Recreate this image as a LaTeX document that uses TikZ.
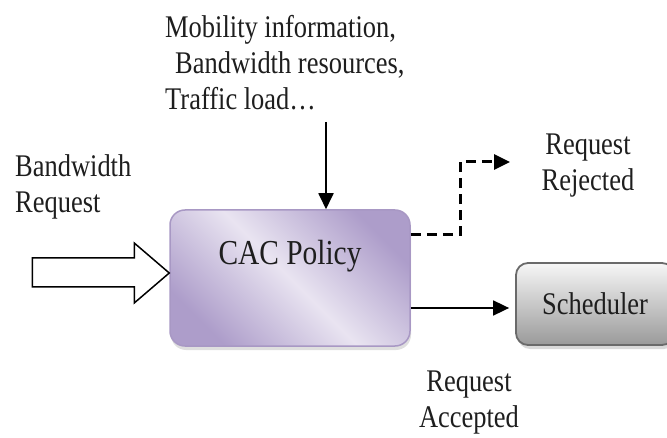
\documentclass[tikz,border=0pt]{standalone}
\usepackage{fontspec}
\setmainfont[FakeStretch=0.84]{Liberation Serif}
\usetikzlibrary{arrows.meta,shadows,calc}
\definecolor{txtgray}{HTML}{1E1E1E}
\definecolor{cacdark}{HTML}{AD9DCA}
\definecolor{caclight}{HTML}{E9E4F1}
\definecolor{cacline}{HTML}{A898C4}
\definecolor{schedtop}{HTML}{F6F6F6}
\definecolor{schedbot}{HTML}{9A9A9A}
\definecolor{schedline}{HTML}{6A6A6A}
\tikzset{
    lbltext/.style = {font=\fontsize{31.5}{36}\selectfont, text=txtgray, inner sep=0pt},
    cacbox/.style = {draw=cacline, line width=1.5pt, rounded corners=15pt,
        minimum width=240pt, minimum height=136pt,
        left color=cacdark, right color=cacdark, middle color=caclight, shading angle=135,
        drop shadow={opacity=0.25, shadow xshift=1pt, shadow yshift=-4pt},
        font=\fontsize{35}{40}\selectfont, text=txtgray, text height=25pt, text depth=51pt},
    schedbox/.style = {draw=schedline, line width=1.8pt, rounded corners=12pt,
        minimum width=158pt, minimum height=82pt,
        top color=schedtop, bottom color=schedbot,
        drop shadow={opacity=0.3, shadow xshift=2pt, shadow yshift=-4pt},
        font=\fontsize{31.5}{37}\selectfont, text=txtgray},
    arrow/.style = {draw, line width=1.8pt, -{Triangle[length=16pt,width=15pt]}},
    dasharrow/.style = {arrow, line width=3pt, dash pattern=on 10pt off 6pt},
    hollow/.style = {draw, line width=1.5pt, fill=white, line join=miter}
}

\begin{document}
\begin{tikzpicture}[x=1pt, y=1pt]
    \clip (0,0) rectangle (667,437);
    % blocks
    \node [cacbox] (cac) at (290,159) {CAC Policy};
    \node [schedbox] (sched) at (595,133) {Scheduler};
    % texts
    \node [lbltext, anchor=north west, align=left] (info) at (165,422)
        {Mobility information,\\\hspace*{10pt}Bandwidth resources,\\Traffic load\ldots};
    \node [lbltext, anchor=north west, align=left] (bwreq) at (15,283) {Bandwidth\\Request};
    \node [lbltext, anchor=north, align=center] (rejtext) at (588,303) {Request\\Rejected};
    \node [lbltext, anchor=north, align=center] (acctext) at (469,66) {Request\\Accepted};
    % connectors
    \coordinate (infoin) at (326,315);
    \coordinate (rej) at (510,275);
    \draw [arrow] (infoin) -- (infoin |- cac.north);
    \draw [dasharrow] ($(cac.east)+(0,43)$) -| ($(rej)+(-50,0)$) -- (rej);
    \draw [arrow, shorten >=6pt] ($(cac.east |- sched.west)+(0,-4)$) -- ($(sched.west)+(0,-4)$);
    \draw [hollow] ($(cac.west)+(0,5)$) -- ++(-35,30) -- ++(0,-15) -- ++(-102,0)
        -- ++(0,-29) -- ++(102,0) -- ++(0,-16) -- cycle;
\end{tikzpicture}
\end{document}
